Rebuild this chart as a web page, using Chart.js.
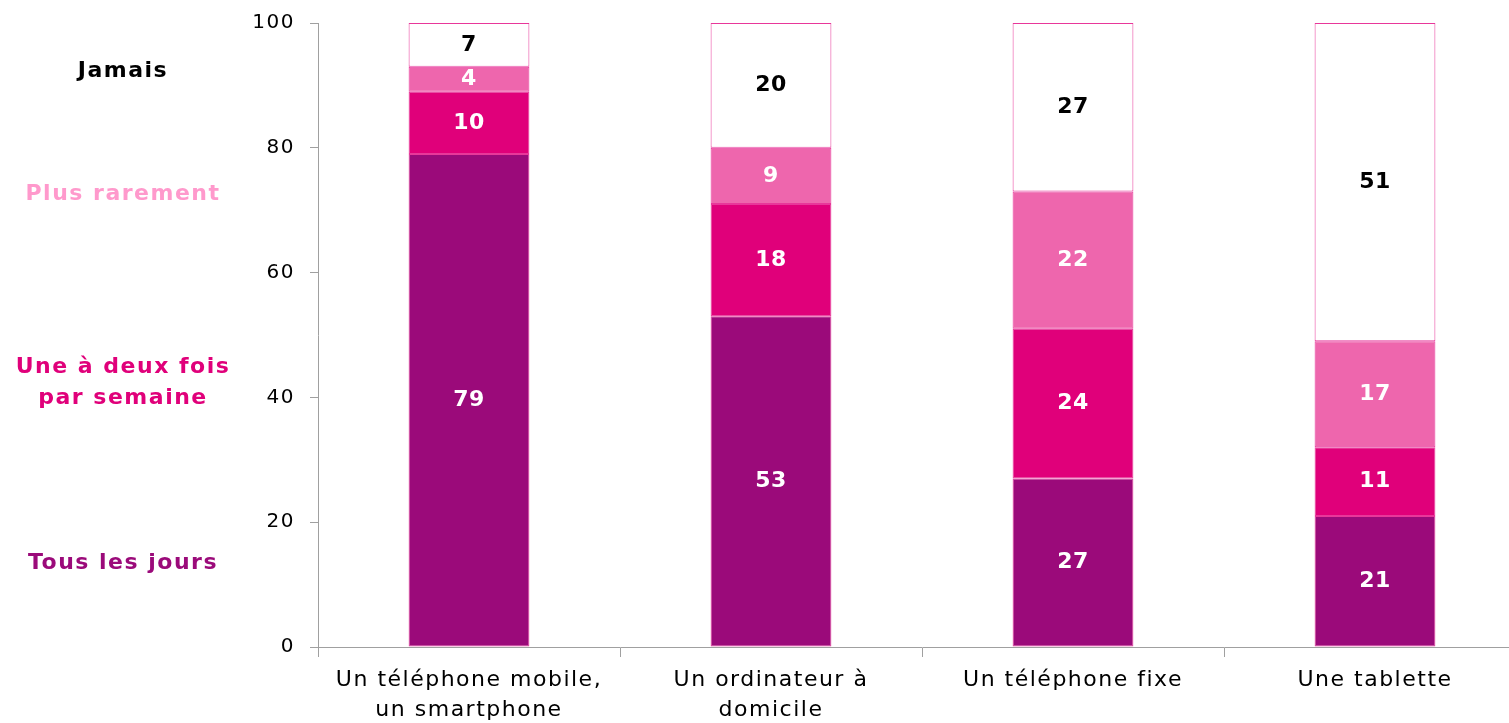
<!DOCTYPE html>
<html lang="fr">
<head>
<meta charset="utf-8">
<title>Fréquence d'utilisation des équipements</title>
<script src="https://cdn.jsdelivr.net/npm/chart.js@4/dist/chart.umd.min.js"></script>
<style>
  html, body { margin: 0; padding: 0; background: #fff; overflow: hidden; }
  #wrap { width: 1526px; height: 723px; }
</style>
</head>
<body>
<div id="wrap"><canvas id="usageChart" width="1526" height="723"></canvas></div>
<script>
/* Data */
const categories = [
  ["Un téléphone mobile,", "un smartphone"],
  ["Un ordinateur à", "domicile"],
  ["Un téléphone fixe"],
  ["Une tablette"]
];
const tousLesJours   = [79, 53, 27, 21];
const uneADeuxFois   = [10, 18, 24, 11];
const plusRarement   = [4, 9, 22, 17];
const jamais         = [7, 20, 27, 51];
const yTicks         = [0, 20, 40, 60, 80, 100];

const FONT = "'DejaVu Sans', Verdana, sans-serif";
const SPACING = "1.5px";   // the original text is set rather loosely

// side labels (text, colour, y value where the block is centred)
const sideLabels = [
  { lines: ["Jamais"], color: "#000000", at: 92.3 },
  { lines: ["Plus rarement"], color: "#FF99CC", at: 72.5 },
  { lines: ["Une à deux fois", "par semaine"], color: "#E0007A", at: 42.3 },
  { lines: ["Tous les jours"], color: "#9B0A7A", at: 13.4 }
];

/* loose letter spacing for every text on the canvas */
const spacing = {
  id: "spacing",
  beforeDraw(chart) { chart.ctx.letterSpacing = SPACING; }
};

/* value labels in the middle of each segment */
const segmentLabels = {
  id: "segmentLabels",
  afterDatasetsDraw(chart) {
    const { ctx } = chart;
    ctx.save();
    ctx.letterSpacing = "0.5px";
    ctx.font = "bold 22px " + FONT;
    ctx.textAlign = "center";
    ctx.textBaseline = "middle";
    chart.data.datasets.forEach((ds, i) => {
      const meta = chart.getDatasetMeta(i);
      meta.data.forEach((bar, j) => {
        ctx.fillStyle = ds.labelColor;
        ctx.fillText(String(ds.data[j]), bar.x, (bar.y + bar.base) / 2);
      });
    });
    ctx.restore();
  }
};

/* coloured captions on the left, acting as the legend */
const sideLegend = {
  id: "sideLegend",
  afterDraw(chart) {
    const { ctx } = chart;
    const y = chart.scales.y;
    ctx.save();
    ctx.letterSpacing = SPACING;
    ctx.font = "bold 22px " + FONT;
    ctx.textAlign = "center";
    ctx.textBaseline = "middle";
    sideLabels.forEach(l => {
      const cy = y.getPixelForValue(l.at);
      const lh = 31;
      const top = cy - (l.lines.length - 1) * lh / 2;
      ctx.fillStyle = l.color;
      l.lines.forEach((t, k) => ctx.fillText(t, 123, top + k * lh));
    });
    ctx.restore();
  }
};

const segBorder = "#E8379A";

new Chart(document.getElementById("usageChart"), {
  type: "bar",
  data: {
    labels: categories,
    datasets: [
      { label: "Tous les jours", data: tousLesJours, backgroundColor: "#9B0A7A", labelColor: "#FFFFFF" },
      { label: "Une à deux fois par semaine", data: uneADeuxFois, backgroundColor: "#E0007A", labelColor: "#FFFFFF" },
      { label: "Plus rarement", data: plusRarement, backgroundColor: "#EE66AD", labelColor: "#FFFFFF" },
      { label: "Jamais", data: jamais, backgroundColor: "#FFFFFF", labelColor: "#000000" }
    ].map(d => Object.assign(d, {
      borderColor: segBorder,
      borderWidth: 1,
      borderSkipped: false,
      clip: false,
      categoryPercentage: 0.4,
      barPercentage: 1
    }))
  },
  options: {
    responsive: false,
    animation: false,
    devicePixelRatio: 1,
    layout: { padding: { top: 23, right: 0, bottom: 0, left: 0 } },
    plugins: {
      legend: { display: false },
      tooltip: { enabled: false }
    },
    scales: {
      x: {
        stacked: true,
        afterFit(scale) { scale.height = 76; },
        grid: { display: true, drawOnChartArea: false, offset: true, tickLength: 10, color: "#A0A0A0" },
        border: { color: "#A0A0A0", width: 1 },
        ticks: {
          color: "#000",
          font: { family: FONT, size: 22, lineHeight: 1.38 },
          padding: 8,
          maxRotation: 0
        }
      },
      y: {
        stacked: true,
        min: 0,
        max: 100,
        afterBuildTicks(scale) { scale.ticks = yTicks.map(v => ({ value: v })); },
        afterFit(scale) {
          scale.width = 318;
          scale.paddingTop = 0;
          scale.paddingBottom = 0;
        },
        grid: { display: true, drawOnChartArea: false, tickLength: 8, color: "#A0A0A0" },
        border: { color: "#A0A0A0", width: 1 },
        ticks: {
          color: "#000",
          font: { family: FONT, size: 20 },
          padding: 15
        }
      }
    }
  },
  plugins: [spacing, segmentLabels, sideLegend]
});
</script>
</body>
</html>
